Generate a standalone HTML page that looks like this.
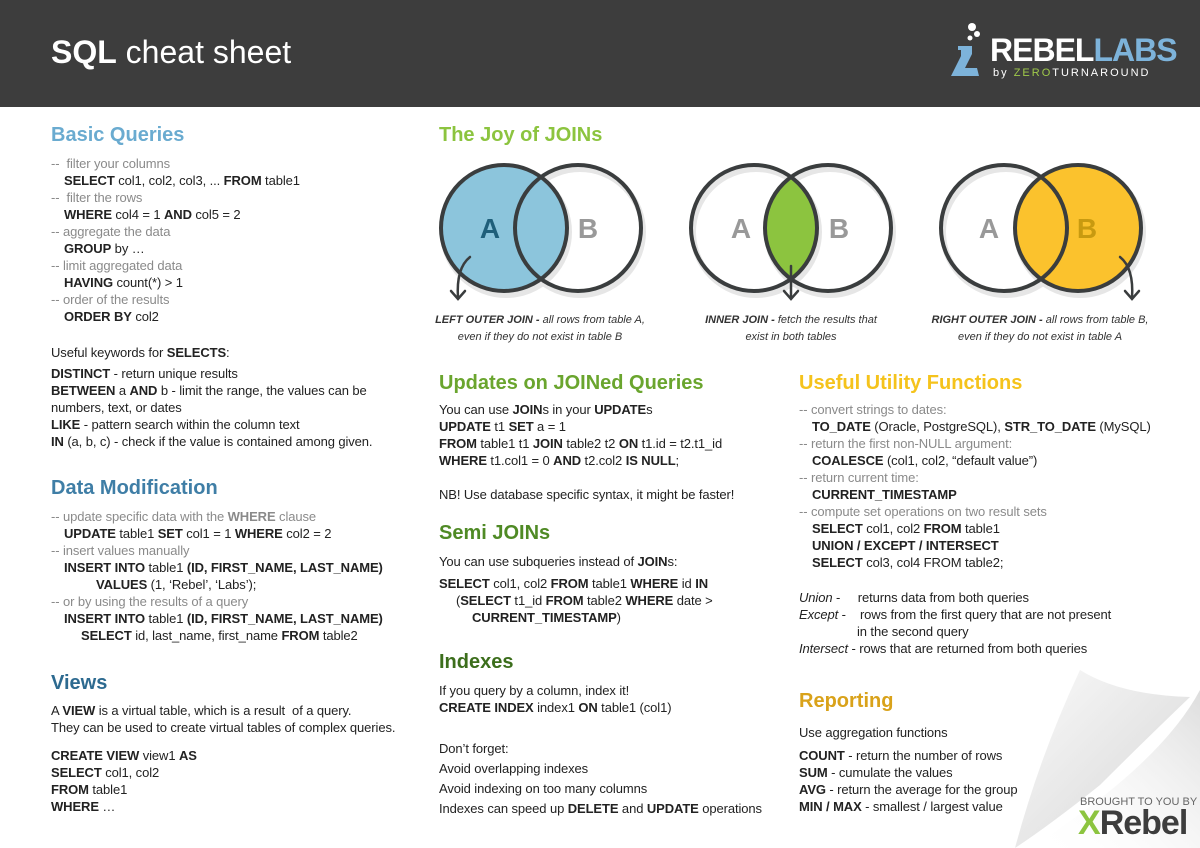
<!DOCTYPE html>
<html><head><meta charset="utf-8"><style>
*{margin:0;padding:0;box-sizing:border-box}
body{width:1200px;height:848px;position:relative;overflow:hidden;background:#fff;font-family:"Liberation Sans",sans-serif;color:#222;font-size:13px}
.a{position:absolute;white-space:nowrap}
.h{font-weight:bold;font-size:20px}
.t{line-height:17px;letter-spacing:-0.1px}
.c{color:#8a8a8a}
.i{padding-left:13px}
.cap{font-style:italic;font-size:11px;text-align:center;line-height:17px;color:#333}
</style></head><body>
<div class="a" style="left:0;top:0;width:1200px;height:107px;background:#3d3d3d"></div>
<div class="a" style="left:51px;top:34px;font-size:32px;color:#fff"><b>SQL</b> cheat sheet</div>
<svg class="a" style="left:945px;top:20px" width="40" height="60"><circle cx="27" cy="7" r="4" fill="#fff"/><circle cx="32" cy="14" r="3" fill="#fff"/><circle cx="25" cy="18" r="2.5" fill="#fff"/><path d="M13 26 H27 V34 L20 48 H32 L34 56 H6 L16 36 V30 H13Z" fill="#7db3da"/></svg>
<div class="a" style="left:990px;top:32px;font-size:32px;font-weight:bold;color:#fff;letter-spacing:-1px">REBEL<span style="color:#7db3da">LABS</span></div>
<div class="a" style="left:993px;top:67px;font-size:11px;color:#fff;letter-spacing:2px">by <span style="color:#9fc94a">ZERO</span>TURNAROUND</div>

<div class="a h" style="left:51px;top:124px;color:#6aabd0">Basic Queries</div>
<div class="a t" style="left:51px;top:155px">
<div class="c">--&nbsp; filter your columns</div><div class="i"><b>SELECT</b> col1, col2, col3, ... <b>FROM</b> table1</div>
<div class="c">--&nbsp; filter the rows</div><div class="i"><b>WHERE</b> col4 = 1 <b>AND</b> col5 = 2</div>
<div class="c">-- aggregate the data</div><div class="i"><b>GROUP</b> by …</div>
<div class="c">-- limit aggregated data</div><div class="i"><b>HAVING</b> count(*) &gt; 1</div>
<div class="c">-- order of the results</div><div class="i"><b>ORDER BY</b> col2</div></div>
<div class="a t" style="left:51px;top:344px">Useful keywords for <b>SELECTS</b>:</div>
<div class="a t" style="left:51px;top:365px">
<div><b>DISTINCT</b> - return unique results</div>
<div><b>BETWEEN</b> a <b>AND</b> b - limit the range, the values can be</div>
<div>numbers, text, or dates</div>
<div><b>LIKE</b> - pattern search within the column text</div>
<div><b>IN</b> (a, b, c) - check if the value is contained among given.</div></div>

<div class="a h" style="left:51px;top:477px;color:#3f7ea6">Data Modification</div>
<div class="a t" style="left:51px;top:508px">
<div class="c">-- update specific data with the <b>WHERE</b> clause</div>
<div class="i"><b>UPDATE</b> table1 <b>SET</b> col1 = 1 <b>WHERE</b> col2 = 2</div>
<div class="c">-- insert values manually</div>
<div class="i"><b>INSERT INTO</b> table1 <b>(ID, FIRST_NAME, LAST_NAME)</b></div>
<div style="padding-left:45px"><b>VALUES</b> (1, ‘Rebel’, ‘Labs’);</div>
<div class="c">-- or by using the results of a query</div>
<div class="i"><b>INSERT INTO</b> table1 <b>(ID, FIRST_NAME, LAST_NAME)</b></div>
<div style="padding-left:30px"><b>SELECT</b> id, last_name, first_name <b>FROM</b> table2</div></div>

<div class="a h" style="left:51px;top:672px;color:#2d6a90">Views</div>
<div class="a t" style="left:51px;top:702px">
<div>A <b>VIEW</b> is a virtual table, which is a result&nbsp; of a query.</div>
<div>They can be used to create virtual tables of complex queries.</div></div>
<div class="a t" style="left:51px;top:747px">
<div><b>CREATE VIEW</b> view1 <b>AS</b></div><div><b>SELECT</b> col1, col2</div><div><b>FROM</b> table1</div><div><b>WHERE</b> …</div></div>

<div class="a h" style="left:439px;top:124px;color:#8cc43f">The Joy of JOINs</div>
<svg class="a" style="left:420px;top:150px" width="780" height="160">
<defs><clipPath id="ca"><circle cx="334" cy="78" r="63"/></clipPath></defs>
<g fill="none" stroke="#e6e6e6" stroke-width="6"><circle cx="86" cy="82" r="63"/><circle cx="160" cy="82" r="63"/><circle cx="336" cy="82" r="63"/><circle cx="410" cy="82" r="63"/><circle cx="586" cy="82" r="63"/><circle cx="660" cy="82" r="63"/></g>
<circle cx="84" cy="78" r="63" fill="#8cc5dc"/>
<circle cx="408" cy="78" r="63" fill="#8cc43f" clip-path="url(#ca)"/>
<circle cx="658" cy="78" r="63" fill="#fbc22d"/>
<g fill="none" stroke="#3a3d3e" stroke-width="4"><circle cx="84" cy="78" r="63"/><circle cx="158" cy="78" r="63"/><circle cx="334" cy="78" r="63"/><circle cx="408" cy="78" r="63"/><circle cx="584" cy="78" r="63"/><circle cx="658" cy="78" r="63"/></g>
<g font-family="Liberation Sans" font-weight="bold" font-size="28" text-anchor="middle">
<text x="70" y="88" fill="#1f5f7a">A</text><text x="168" y="88" fill="#999">B</text>
<text x="321" y="88" fill="#999">A</text><text x="419" y="88" fill="#999">B</text>
<text x="569" y="88" fill="#999">A</text><text x="667" y="88" fill="#c89a10">B</text></g>
<g fill="none" stroke="#3a3d3e" stroke-width="2.5" stroke-linecap="round">
<path d="M50 107 Q36 118 38 148"/><path d="M31 141 L38 149 L45 141"/>
<path d="M371 116 V148"/><path d="M364 141 L371 149 L378 141"/>
<path d="M700 107 Q714 118 712 148"/><path d="M705 141 L712 149 L719 141"/></g>
</svg>
<div class="a cap" style="left:390px;top:312px;width:300px"><b>LEFT OUTER JOIN -</b> all rows from table A,<br>even if they do not exist in table B</div>
<div class="a cap" style="left:641px;top:312px;width:300px"><b>INNER JOIN -</b> fetch the results that<br>exist in both tables</div>
<div class="a cap" style="left:890px;top:312px;width:300px"><b>RIGHT OUTER JOIN -</b> all rows from table B,<br>even if they do not exist in table A</div>

<div class="a h" style="left:439px;top:372px;color:#6aa52e">Updates on JOINed Queries</div>
<div class="a t" style="left:439px;top:401px">
<div>You can use <b>JOIN</b>s in your <b>UPDATE</b>s</div><div><b>UPDATE</b> t1 <b>SET</b> a = 1</div>
<div><b>FROM</b> table1 t1 <b>JOIN</b> table2 t2 <b>ON</b> t1.id = t2.t1_id</div>
<div><b>WHERE</b> t1.col1 = 0 <b>AND</b> t2.col2 <b>IS NULL</b>;</div></div>
<div class="a t" style="left:439px;top:486px">NB! Use database specific syntax, it might be faster!</div>
<div class="a h" style="left:439px;top:522px;color:#4f8a25">Semi JOINs</div>
<div class="a t" style="left:439px;top:553px">You can use subqueries instead of <b>JOIN</b>s:</div>
<div class="a t" style="left:439px;top:575px">
<div><b>SELECT</b> col1, col2 <b>FROM</b> table1 <b>WHERE</b> id <b>IN</b></div>
<div style="padding-left:17px">(<b>SELECT</b> t1_id <b>FROM</b> table2 <b>WHERE</b> date &gt;</div>
<div style="padding-left:33px"><b>CURRENT_TIMESTAMP</b>)</div></div>
<div class="a h" style="left:439px;top:651px;color:#3c6e1c">Indexes</div>
<div class="a t" style="left:439px;top:682px"><div>If you query by a column, index it!</div><div><b>CREATE INDEX</b> index1 <b>ON</b> table1 (col1)</div></div>
<div class="a" style="left:439px;top:739px;line-height:20px;letter-spacing:-0.1px">
<div>Don’t forget:</div><div>Avoid overlapping indexes</div><div>Avoid indexing on too many columns</div>
<div>Indexes can speed up <b>DELETE</b> and <b>UPDATE</b> operations</div></div>

<div class="a h" style="left:799px;top:372px;color:#f5c31c">Useful Utility Functions</div>
<div class="a t" style="left:799px;top:401px">
<div class="c">-- convert strings to dates:</div>
<div class="i"><b>TO_DATE</b> (Oracle, PostgreSQL), <b>STR_TO_DATE</b> (MySQL)</div>
<div class="c">-- return the first non-NULL argument:</div>
<div class="i"><b>COALESCE</b> (col1, col2, “default value”)</div>
<div class="c">-- return current time:</div>
<div class="i"><b>CURRENT_TIMESTAMP</b></div>
<div class="c">-- compute set operations on two result sets</div>
<div class="i"><b>SELECT</b> col1, col2 <b>FROM</b> table1</div>
<div class="i"><b>UNION / EXCEPT / INTERSECT</b></div>
<div class="i"><b>SELECT</b> col3, col4 FROM table2;</div></div>
<div class="a t" style="left:799px;top:589px">
<div><i>Union</i> -&nbsp;&nbsp;&nbsp;&nbsp; returns data from both queries</div>
<div><i>Except</i> -&nbsp;&nbsp;&nbsp; rows from the first query that are not present</div>
<div style="padding-left:58px">in the second query</div>
<div><i>Intersect</i> - rows that are returned from both queries</div></div>

<svg class="a" style="left:990px;top:655px" width="210" height="193">
<defs><linearGradient id="g" x1="0" y1="0" x2="1" y2="1"><stop offset="0" stop-color="#fafafa"/><stop offset="0.6" stop-color="#e4e4e4"/><stop offset="1" stop-color="#c9c9c9"/></linearGradient>
<linearGradient id="s" x1="1" y1="0" x2="0" y2="1"><stop offset="0" stop-color="#bbb"/><stop offset="1" stop-color="#fff" stop-opacity="0"/></linearGradient></defs>
<path d="M210 35 Q170 110 40 193 L210 193Z" fill="url(#s)" opacity="0.5"/>
<path d="M90 15 Q130 40 200 42 Q150 90 110 130 Q60 170 25 193 Q50 100 90 15Z" fill="url(#g)"/>
</svg>
<div class="a h" style="left:799px;top:690px;color:#d9a21a">Reporting</div>
<div class="a t" style="left:799px;top:724px">Use aggregation functions</div>
<div class="a t" style="left:799px;top:747px">
<div><b>COUNT</b> - return the number of rows</div><div><b>SUM</b> - cumulate the values</div>
<div><b>AVG</b> - return the average for the group</div><div><b>MIN / MAX</b> - smallest / largest value</div></div>
<div class="a" style="left:1080px;top:796px;font-size:11px;color:#666">BROUGHT TO YOU BY</div>
<div class="a" style="left:1078px;top:804px;font-size:34px;font-weight:bold;color:#3d3d3d;letter-spacing:-1px"><span style="color:#8cc43f">X</span>Rebel</div>
</body></html>
